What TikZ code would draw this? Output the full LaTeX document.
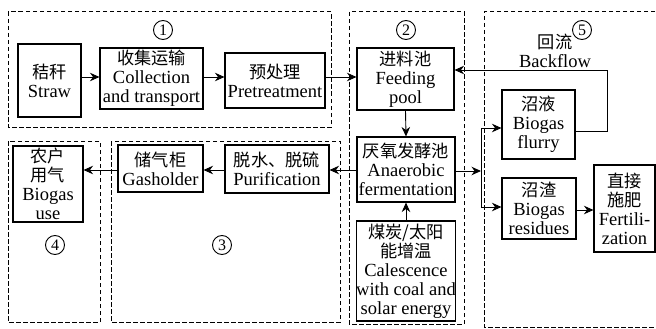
\documentclass[tikz,border=0pt]{standalone}
\usepackage{fontspec}
\setmainfont{Liberation Serif}
\newfontfamily\cjk{Noto Sans CJK SC}[Scale=0.93]
\usetikzlibrary{arrows.meta}
\begin{document}
\begin{tikzpicture}[x=1pt,y=-1pt,
  box/.style={draw, line width=1.1pt, inner sep=0pt, align=center, font=\fontsize{18.5}{19}\selectfont},
  grp/.style={draw, dash pattern=on 4.5pt off 2.5pt, line width=1pt},
  arr/.style={-{Stealth[length=9.5pt,width=8.5pt]}, line width=0.9pt},
  ln/.style={line width=0.9pt},
  num/.style={circle, draw, line width=0.9pt, inner sep=0pt, minimum size=19pt, font=\fontsize{16}{16}\selectfont},
  lbl/.style={inner sep=0pt, align=center, font=\fontsize{18.5}{19}\selectfont}]
\useasboundingbox (0,0) rectangle (656,329);
% groups
\draw[grp] (8,12) rectangle (331,127);
\draw[grp] (349,12) rectangle (464,324);
\draw[grp] (111,141) rectangle (340,322);
\draw[grp] (8,141) rectangle (100,322);
\draw[grp] (662,12) -- (484,12) -- (484,327) -- (662,327);
% numbers
\node[num] (n1) at (163,30) {1};
\node[num] (n2) at (406,30) {2};
\node[num] (n3) at (222,245) {3};
\node[num] (n4) at (55,245) {4};
\node[num] (n5) at (582,30) {5};
% boxes
\node[box, minimum width=63pt, minimum height=73pt] (straw) at (49.5,80.5) {{\cjk 秸秆}\\Straw};
\node[box, minimum width=103pt, minimum height=61pt] (collect) at (151.5,78.5) {{\cjk 收集运输}\\Collection\\and transport};
\node[box, minimum width=100pt, minimum height=55pt] (pre) at (275,80.5) {{\cjk 预处理}\\Pretreatment};
\node[box, minimum width=97pt, minimum height=62pt] (feed) at (405.5,79) {{\cjk 进料池}\\Feeding\\pool};
\node[box, minimum width=98pt, minimum height=65pt] (anaer) at (406,169.5) {{\cjk 厌氧发酵池}\\Anaerobic\\fermentation};
\node[box, minimum width=98pt, minimum height=100pt] (cales) at (406,271) {{\cjk 煤炭/太阳}\\{\cjk 能增温}\\Calescence\\with coal and\\solar energy};
\node[box, minimum width=73pt, minimum height=69pt] (flurry) at (538.5,124.5) {{\cjk 沼液}\\Biogas\\flurry};
\node[box, minimum width=74pt, minimum height=61pt] (resid) at (539,208.5) {{\cjk 沼渣}\\Biogas\\residues};
\node[box, minimum width=61pt, minimum height=87pt] (fert) at (624.5,208.5) {{\cjk 直接}\\{\cjk 施肥}\\Fertili-\\zation};
\node[box, minimum width=70pt, minimum height=76pt] (use) at (48,184) {{\cjk 农户}\\{\cjk 用气}\\Biogas\\use};
\node[box, minimum width=85pt, minimum height=47pt] (gas) at (160.5,168.5) {{\cjk 储气柜}\\Gasholder};
\node[box, minimum width=104pt, minimum height=48pt] (pur) at (277,169) {{\cjk 脱水、脱硫}\\Purification};
\node[lbl] (back) at (555,51) {{\cjk 回流}\\Backflow};
% connectors
\coordinate (y77) at (0,77);
\draw[arr] (straw.east |- y77) -- (collect.west |- y77);
\draw[arr] (collect.east |- y77) -- (pre.west |- y77);
\draw[arr] (pre.east |- y77) -- (feed.west |- y77);
\draw[arr] (feed.south) -- (anaer.north);
\draw[arr] (cales.north) -- (anaer.south);
\coordinate (y170) at (0,170);
\draw[arr] (anaer.west |- y170) -- (pur.east |- y170);
\draw[arr] (pur.west |- y170) -- (gas.east |- y170);
\draw[arr] (gas.west |- y170) -- (use.east |- y170);
\coordinate (sp) at (481,171);
\coordinate (sptop) at (481,128);
\coordinate (spbot) at (481,207);
\draw[arr] (anaer.east |- sp) -- (sp);
\draw[ln] (sptop) -- (spbot);
\draw[arr] (sptop) -- (flurry.west |- sptop);
\draw[arr] (spbot) -- (resid.west |- spbot);
\coordinate (y210) at (0,210);
\draw[arr] (resid.east |- y210) -- (fert.west |- y210);
\coordinate (bk1) at (607,131);
\coordinate (bk2) at (607,70);
\draw[arr] (flurry.east |- bk1) -- (bk1) -- (bk2) -- (feed.east |- bk2);
\end{tikzpicture}
\end{document}
